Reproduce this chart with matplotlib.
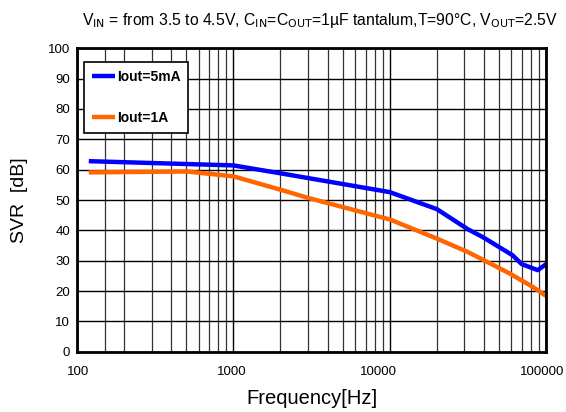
import matplotlib
matplotlib.use("Agg")
import matplotlib.pyplot as plt
import matplotlib.transforms as mtransforms
from matplotlib.ticker import FixedLocator, NullFormatter

plt.rcParams['font.family'] = ['Liberation Sans', 'DejaVu Sans']

# Iout = 5mA
freq_5ma = [119, 1000, 2000, 10000, 20000, 31500, 39300, 61000, 69700, 88300, 100000]
svr_5ma = [62.8, 61.4, 58.8, 52.6, 47.0, 40.4, 37.8, 31.8, 28.9, 26.9, 28.9]

# Iout = 1A
freq_1a = [119, 505, 1000, 2000, 3000, 10000, 20000, 31500, 58500, 82000, 100000]
svr_1a = [59.1, 59.4, 57.8, 53.4, 50.7, 43.6, 37.3, 32.9, 25.8, 21.4, 18.4]

x_ticks = [100, 1000, 10000, 100000]
x_tick_labels = ["100", "1000", "10000", "100000"]
y_ticks = list(range(0, 101, 10))

fig = plt.figure(figsize=(5.66, 4.12), dpi=100)
ax = fig.add_axes([0.136, 0.146, 0.829, 0.737])

ax.plot(freq_5ma, svr_5ma, color="#0000ff", lw=3.2, label="Iout=5mA", solid_capstyle="butt")
ax.plot(freq_1a, svr_1a, color="#ff6600", lw=3.2, label="Iout=1A", solid_capstyle="butt")

ax.set_xscale("log")
ax.set_xlim(100, 100000)
ax.set_ylim(0, 100)
ax.set_xticks(x_ticks)
ax.set_xticklabels(x_tick_labels)
minor = [150] + [m * d for d in (100, 1000, 10000) for m in range(2, 10)]
ax.xaxis.set_minor_locator(FixedLocator(minor))
ax.xaxis.set_minor_formatter(NullFormatter())
ax.set_yticks(y_ticks)

ax.grid(which="major", color="black", lw=1.0)
ax.grid(which="minor", axis="x", color="#333333", lw=0.9)
ax.set_axisbelow(True)
ax.tick_params(which="both", length=0, labelsize=9.5)
ax.tick_params(axis="x", pad=10)
ax.tick_params(axis="y", pad=5)
for s in ax.spines.values():
    s.set_linewidth(2)

# the original's tick labels sit a little off their grid lines
for lab, dx in zip(ax.get_xticklabels(), [1, -2, -11, -4]):
    shift = mtransforms.ScaledTranslation(dx / 100, 0, fig.dpi_scale_trans)
    lab.set_transform(lab.get_transform() + shift)

ax.set_xlabel("Frequency[Hz]", fontsize=14.5, labelpad=8)
ax.set_ylabel("SVR  [dB]", fontsize=14, labelpad=14)
fig.text(0.986, 0.95,
         r"V$_{\mathrm{IN}}$ = from 3.5 to 4.5V, C$_{\mathrm{IN}}$=C$_{\mathrm{OUT}}$=1µF tantalum,T=90°C, V$_{\mathrm{OUT}}$=2.5V",
         fontsize=11.3, ha="right", va="center")

leg = ax.legend(loc="upper left", bbox_to_anchor=(0.015, 0.954), borderaxespad=0,
                frameon=True, fancybox=False, edgecolor="black", framealpha=1,
                prop={"weight": "bold", "size": 10},
                handlelength=1.7, handletextpad=0.1, labelspacing=1.95, borderpad=0.55)
leg.get_frame().set_linewidth(1.2)

fig.savefig("out.png", dpi=100)
